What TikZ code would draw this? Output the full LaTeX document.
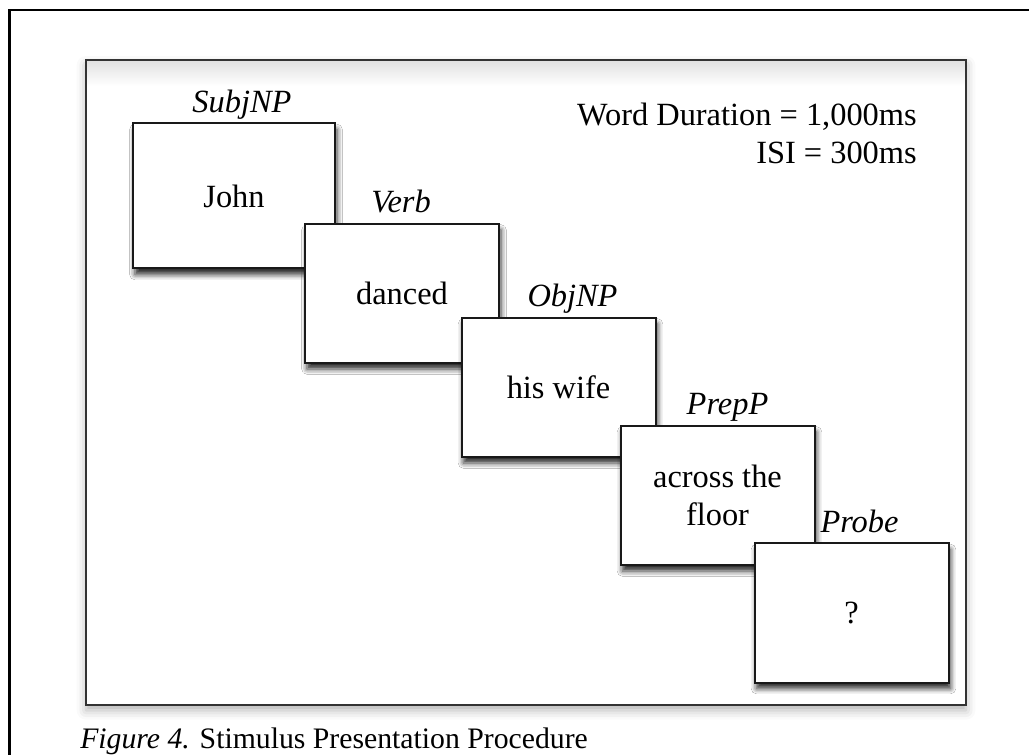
\documentclass[tikz,border=0pt]{standalone}
\usepackage{fontspec}
\setmainfont{Liberation Serif}
\usetikzlibrary{shadows.blur}

\begin{document}
\begin{tikzpicture}[x=0.75pt, y=-0.75pt,
    font=\fontsize{24.3}{28.5}\selectfont,
    card/.style={draw=black!90, line width=1.5pt, fill=white,
      minimum width=145.5pt, minimum height=104.25pt, align=center, inner sep=0pt,
      blur shadow={shadow xshift=1.5pt, shadow yshift=-4.5pt, shadow blur radius=4pt, shadow opacity=85}},
    tag/.style={font=\fontsize{24.3}{28.5}\selectfont\itshape, anchor=base, inner sep=0pt}]
        \useasboundingbox (0,0) rectangle (1029,755);

        % outer frame, only top and left fall on the page
        \draw[line width=2.2pt] (9.5,10) rectangle (1060,790);

        % inner frame
        \fill[white, blur shadow={shadow xshift=0pt, shadow yshift=-4pt, shadow blur radius=7pt, shadow opacity=30}] (86,60) rectangle (966,705);
        \shade[top color=black!12, bottom color=white] (86,60) rectangle (966,86);
        \draw[black!80, line width=1.2pt] (86,60) rectangle (966,705);

        \node[anchor=north east, inner sep=0pt, align=right] (timing) at (917,103) {Word Duration = 1,000ms\\ISI = 300ms};

        \node[card, minimum width=151.5pt, minimum height=108.75pt] (john) at (234,196) {John};
        \node[tag] (subjtag) at ([xshift=6pt, yshift=7.5pt]john.north) {SubjNP};

        \node[card] (danced) at (402,293.5) {danced};
        \node[tag] (verbtag) at ([xshift=-0.75pt, yshift=7.5pt]danced.north) {Verb};

        \node[card] (wife) at (558.5,387.5) {his wife};
        \node[tag] (objtag) at ([xshift=10.5pt, yshift=7.5pt]wife.north) {ObjNP};

        \node[card] (floor) at (717.5,495.5) {across the\\floor};
        \node[tag] (preptag) at ([xshift=7.5pt, yshift=7.5pt]floor.north) {PrepP};

        \node[card] (probe) at (851.5,613) {?};
        \node[tag] (probetag) at ([xshift=6pt, yshift=7.5pt]probe.north) {Probe};

        \node[anchor=base west, inner sep=0pt, font=\fontsize{22.3}{26}\selectfont] (caption) at (80,748) {\textit{Figure 4.} Stimulus Presentation Procedure};
    \end{tikzpicture}
\end{document}
